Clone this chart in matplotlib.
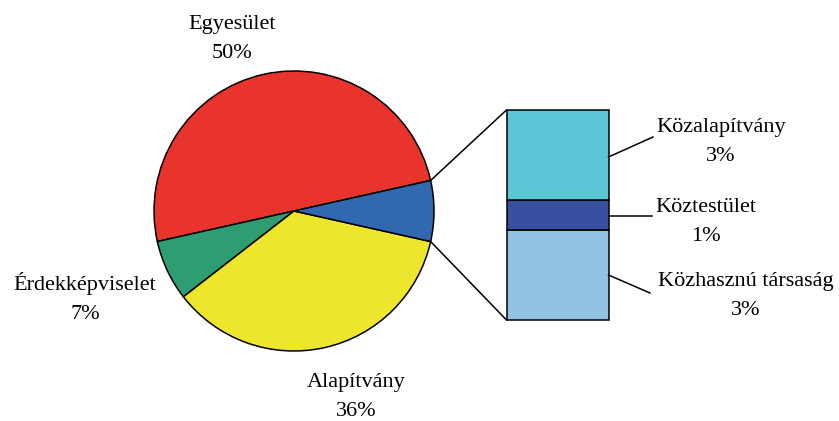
import numpy as np
import matplotlib
matplotlib.use("Agg")
import matplotlib.pyplot as plt

# pie part
pie_labels = ["Egyesület", "Érdekképviselet", "Alapítvány", "Egyéb"]
pie_values = [50, 7, 36, 7]
pie_colors = ["#E8342C", "#2E9E72", "#EEE62C", "#3268B2"]

# bar part (breakdown of "Egyéb"), bottom to top
bar_labels = ["Közhasznú társaság", "Köztestület", "Közalapítvány"]
bar_values = [3, 1, 3]
bar_colors = ["#93C3E3", "#3A4FA0", "#5CC6D7"]

plt.rcParams['font.family'] = ['Liberation Serif', 'DejaVu Serif']

fig = plt.figure(figsize=(8.39, 4.21), dpi=100)
ax = fig.add_axes([0, 0, 1, 1])

cx, cy, r = 294, 210, 140
start = 360 * pie_values[-1] / 100 / 2
ax.pie(pie_values, colors=pie_colors, startangle=start, counterclock=True,
       center=(cx, cy), radius=r, frame=True,
       wedgeprops=dict(edgecolor="black", linewidth=1.1))
ax.set_xlim(0, 839)
ax.set_ylim(0, 421)
ax.axis("off")

# stacked bar
bx, bw, scale, b0 = 557.5, 102, 30, 101
bottom = b0
for val, col in zip(bar_values, bar_colors):
    ax.bar(bx, val * scale, width=bw, bottom=bottom, color=col, edgecolor="black", linewidth=1.1)
    bottom += val * scale

# connecting lines
a = np.radians(start)
ax.plot([cx + r * np.cos(a), bx - bw / 2], [cy + r * np.sin(a), bottom], color="black", lw=1.1)
ax.plot([cx + r * np.cos(a), bx - bw / 2], [cy - r * np.sin(a), b0], color="black", lw=1.1)

fs = 16
ls = 1.75
pct = [f"{v}%" for v in pie_values]
ax.text(232, 382, pie_labels[0] + "\n" + pct[0], ha="center", va="center", fontsize=fs, linespacing=ls)
ax.text(85, 123, pie_labels[1] + "\n" + pct[1], ha="center", va="center", fontsize=fs, linespacing=ls)
ax.text(356, 24, pie_labels[2] + "\n" + pct[2], ha="center", va="center", fontsize=fs, linespacing=ls)

# bar labels with leader lines
right = bx + bw / 2
leaders = [((right, 264), (653, 284)), ((right, 205), (652, 205)), ((right, 146), (650, 128))]
for p0, p1 in leaders:
    ax.plot([p0[0], p1[0]], [p0[1], p1[1]], color="black", lw=1.1)

ax.text(721, 279, bar_labels[2] + "\n" + f"{bar_values[2]}%", ha="center", va="center", fontsize=fs, linespacing=ls)
ax.text(706, 199, bar_labels[1] + "\n" + f"{bar_values[1]}%", ha="center", va="center", fontsize=fs, linespacing=ls)
ax.text(746, 125, bar_labels[0] + "\n" + f"{bar_values[0]}%", ha="center", va="center", fontsize=fs, linespacing=ls)

fig.savefig("out.png", dpi=100)
